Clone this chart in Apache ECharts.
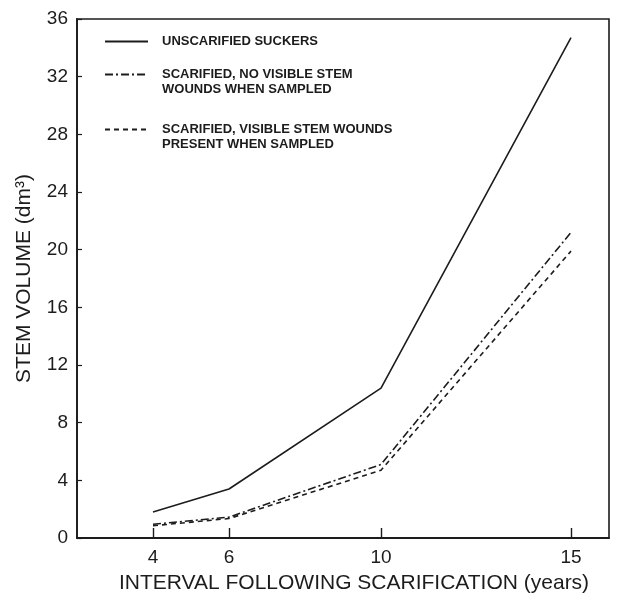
<!DOCTYPE html>
<html>
<head>
<meta charset="utf-8">
<script src="https://cdn.jsdelivr.net/npm/echarts@6/dist/echarts.min.js"></script>
<style>
html,body{margin:0;padding:0;background:#fff;}
#chart{width:617px;height:603px;}
</style>
</head>
<body>
<div id="chart"></div>
<script>
// Data
const years = [4, 6, 10, 15];
const xTickValues = [4, 6, 10, 15];
const seriesNames = [
  'UNSCARIFIED SUCKERS',
  'SCARIFIED, NO VISIBLE STEM\nWOUNDS WHEN SAMPLED',
  'SCARIFIED, VISIBLE STEM WOUNDS\nPRESENT WHEN SAMPLED'
];
const unscarified = [1.8, 3.4, 10.4, 34.7];
const scarNoWounds = [0.95, 1.45, 5.1, 21.2];
const scarWounds = [0.85, 1.35, 4.7, 19.9];

const ink = '#1c1c1c';
const font = 'Liberation Sans';

function pairs(xs, ys) { return xs.map((x, i) => [x, ys[i]]); }

const legendText = {
  color: ink, fontFamily: font, fontSize: 13, fontWeight: 'bold',
  lineHeight: 15, padding: [0, 0, 0, 9]
};
const legendBase = {
  left: 104, padding: 0, itemWidth: 43, itemHeight: 10, selectedMode: false,
  itemStyle: {color: 'transparent', opacity: 0, borderWidth: 0},
  textStyle: legendText
};

const chart = echarts.init(document.getElementById('chart'), null, {renderer: 'canvas'});
chart.setOption({
  animation: false,
  backgroundColor: '#fff',
  grid: {
    left: 77, right: 8, top: 19, bottom: 65,
    show: true, borderColor: ink, borderWidth: 1.6, backgroundColor: 'transparent'
  },
  legend: [
    Object.assign({}, legendBase, {data: [seriesNames[0]], top: 34}),
    Object.assign({}, legendBase, {data: [seriesNames[1]], top: 52,
      formatter: n => '\n' + n}),
    Object.assign({}, legendBase, {data: [seriesNames[2]], top: 107,
      formatter: n => '\n' + n})
  ],
  xAxis: {
    type: 'value', min: 2, max: 16,
    name: 'INTERVAL FOLLOWING SCARIFICATION (years)',
    nameLocation: 'middle', nameGap: 35,
    nameTextStyle: {color: ink, fontFamily: font, fontSize: 21, padding: [0, 0, 0, 22]},
    axisLine: {show: true, lineStyle: {color: ink, width: 1.8}},
    axisTick: {show: true, inside: true, length: 10, customValues: xTickValues,
               lineStyle: {color: ink, width: 1.4}},
    axisLabel: {customValues: xTickValues, color: ink, fontFamily: font, fontSize: 19, margin: 10},
    splitLine: {show: false}
  },
  yAxis: {
    type: 'value', min: 0, max: 36, interval: 4,
    name: 'STEM VOLUME (dm³)',
    nameLocation: 'middle', nameGap: 42, nameRotate: 90,
    nameTextStyle: {color: ink, fontFamily: font, fontSize: 21},
    axisLine: {show: true, lineStyle: {color: ink, width: 1.8}},
    axisTick: {show: true, inside: true, length: 5, lineStyle: {color: ink, width: 1.2}},
    axisLabel: {color: ink, fontFamily: font, fontSize: 19, margin: 9},
    splitLine: {show: false}
  },
  series: [
    {name: seriesNames[0], type: 'line', data: pairs(years, unscarified),
     symbol: 'none', lineStyle: {color: ink, width: 1.6, type: 'solid'}, itemStyle: {color: ink}},
    {name: seriesNames[1], type: 'line', data: pairs(years, scarNoWounds),
     symbol: 'none', lineStyle: {color: ink, width: 1.6, type: [8, 3, 2, 3]}, itemStyle: {color: ink}},
    {name: seriesNames[2], type: 'line', data: pairs(years, scarWounds),
     symbol: 'none', lineStyle: {color: ink, width: 1.6, type: [5, 4]}, itemStyle: {color: ink}}
  ]
});
</script>
</body>
</html>
